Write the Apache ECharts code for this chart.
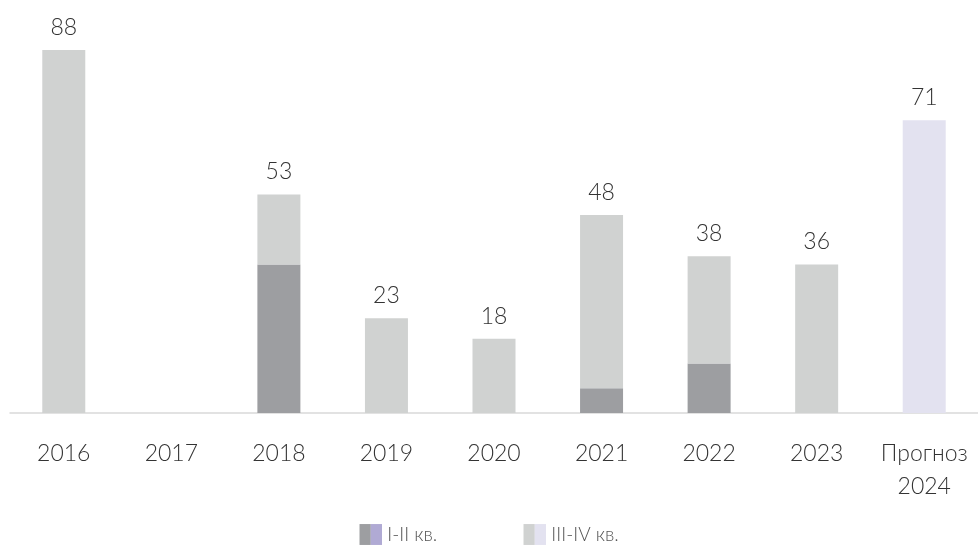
<!DOCTYPE html>
<html><head><meta charset="utf-8">
<script src="https://cdn.jsdelivr.net/npm/echarts@6/dist/echarts.min.js"></script>
<style>html,body{margin:0;padding:0;background:#fff;}#c{width:978px;height:550px;}</style>
</head><body><div id="c"></div>
<script>
var categories = ['2016','2017','2018','2019','2020','2021','2022','2023','Прогноз\n2024'];
var seriesNames = ['I-II кв.','III-IV кв.'];
var h1 = [null, null, 36, null, null, 6, 12, null, null];
var h2 = [88, null, 17, 23, 18, 42, 26, 36, 71];
var forecastIndex = 8;

var totals = categories.map(function(_, i){
  var t = (h1[i]||0) + (h2[i]||0);
  return t ? t : null;
});

function splitIcon(a, b){
  var svg = '<svg xmlns="http://www.w3.org/2000/svg" width="22" height="20"><rect x="0" y="0" width="11" height="20" fill="'+a+'"/><rect x="11" y="0" width="11" height="20" fill="'+b+'"/></svg>';
  return 'image://data:image/svg+xml;charset=utf-8,' + encodeURIComponent(svg);
}

var cDark = '#9d9ea1', cLight = '#d0d2d1', cPurple = '#b0aad4', cLav = '#e3e2f0';
var font = 'Lato';

var d2 = h2.map(function(v, i){
  if (i === forecastIndex) return {value: v, itemStyle: {color: cLav}};
  return v;
});

var chart = echarts.init(document.getElementById('c'));
chart.setOption({
  animation: false,
  textStyle: {fontFamily: font},
  grid: {left: 10, right: 0, top: 50, bottom: 137},
  legend: {
    bottom: 0, left: 'center', itemWidth: 23, itemHeight: 21, itemGap: 86,
    textStyle: {fontFamily: font, fontSize: 19, fontWeight: 300, color: '#555'},
    data: [
      {name: seriesNames[0], icon: splitIcon(cDark, cPurple)},
      {name: seriesNames[1], icon: splitIcon(cLight, cLav)}
    ]
  },
  xAxis: {
    type: 'category', data: categories,
    axisLine: {lineStyle: {color: '#d9d9d9', width: 1.5}},
    axisTick: {show: false},
    axisLabel: {fontFamily: font, fontSize: 23, fontWeight: 300, color: '#333', margin: 24, lineHeight: 33, interval: 0}
  },
  yAxis: {type: 'value', min: 0, max: 88, show: false, splitLine: {show: false}},
  series: [
    {name: seriesNames[0], type: 'bar', stack: 's', barWidth: 43, data: h1, itemStyle: {color: cDark}},
    {name: seriesNames[1], type: 'bar', stack: 's', barWidth: 43, data: d2, itemStyle: {color: cLight},
     label: {show: true, position: 'top', distance: 11, fontFamily: font, fontSize: 23, fontWeight: 300, color: '#333',
       formatter: function(p){ return totals[p.dataIndex]; }}}
  ]
});
</script></body></html>
